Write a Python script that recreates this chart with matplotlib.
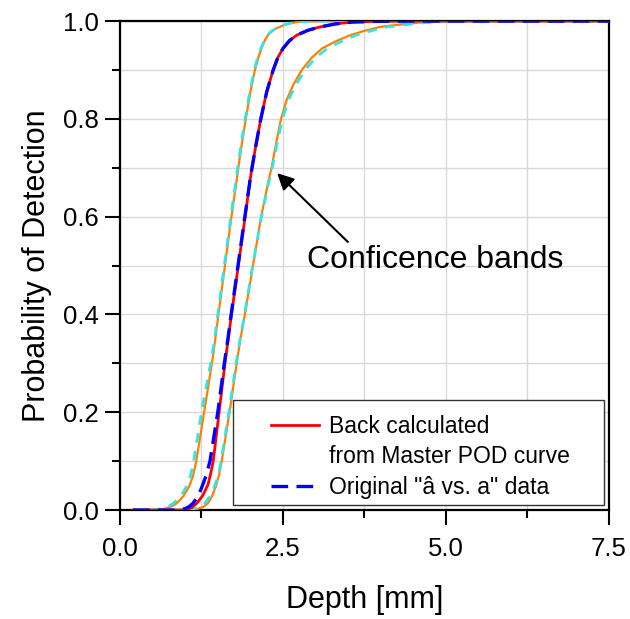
import matplotlib
matplotlib.use("Agg")
import matplotlib.pyplot as plt
from matplotlib.lines import Line2D
from matplotlib.patches import Rectangle
from matplotlib.ticker import MultipleLocator, FormatStrFormatter

plt.rcParams['font.family'] = ['Liberation Sans', 'DejaVu Sans']

# ---- data ----
# Back calculated from Master POD curve (red)
back_x = [0.2, 0.6, 0.9, 1.02, 1.10, 1.18, 1.27, 1.35, 1.39, 1.43, 1.52, 1.61, 1.655, 1.71, 1.815, 1.92,
          1.995, 2.025, 2.09, 2.16, 2.25, 2.35, 2.42, 2.50, 2.60, 2.71, 2.88, 3.07, 3.30, 3.57, 4.0, 4.5, 7.5]
back_y = [0.0, 0.0, 0.0, 0.001, 0.005, 0.014, 0.03, 0.052, 0.074, 0.10, 0.20, 0.30, 0.345, 0.40, 0.50, 0.60,
          0.675, 0.70, 0.75, 0.80, 0.855, 0.90, 0.925, 0.944, 0.960, 0.971, 0.981, 0.988, 0.994, 0.998, 0.9995, 1.0, 1.0]

# Original "â vs. a" data (blue dashed)
orig_x = [0.2, 0.85, 0.93, 1.0, 1.06, 1.12, 1.19, 1.25, 1.32, 1.38, 1.50, 1.60, 1.65, 1.705, 1.81, 1.915,
          1.995, 2.025, 2.09, 2.16, 2.25, 2.35, 2.42, 2.50, 2.60, 2.71, 2.88, 3.07, 3.30, 3.57, 4.0, 4.5, 7.5]
orig_y = [0.0, 0.0, 0.001, 0.003, 0.007, 0.014, 0.027, 0.045, 0.07, 0.10, 0.20, 0.30, 0.345, 0.40, 0.50, 0.60,
          0.675, 0.70, 0.75, 0.80, 0.855, 0.90, 0.925, 0.944, 0.960, 0.971, 0.981, 0.988, 0.994, 0.998, 0.9995, 1.0, 1.0]

# Confidence bands of back calculated curve (orange)
back_up_x = [0.2, 0.5, 0.6, 0.7, 0.8, 0.87, 0.97, 1.06, 1.12, 1.17, 1.29, 1.41, 1.46, 1.51, 1.61, 1.71,
             1.79, 1.815, 1.87, 1.93, 2.00, 2.07, 2.12, 2.17, 2.22, 2.27, 2.33, 2.40, 2.50, 2.60, 2.71, 2.9, 3.2, 7.5]
back_up_y = [0.0, 0.0, 0.001, 0.003, 0.008, 0.014, 0.028, 0.048, 0.07, 0.10, 0.20, 0.30, 0.348, 0.40, 0.50, 0.60,
             0.675, 0.70, 0.75, 0.80, 0.855, 0.90, 0.925, 0.944, 0.960, 0.971, 0.979, 0.985, 0.991, 0.995, 0.998, 0.9995, 1.0, 1.0]
back_lo_x = [0.2, 1.0, 1.10, 1.18, 1.27, 1.35, 1.41, 1.47, 1.52, 1.56, 1.68, 1.79, 1.845, 1.915, 2.04, 2.165,
             2.28, 2.325, 2.395, 2.47, 2.56, 2.66, 2.79, 2.94, 3.10, 3.30, 3.53, 3.75, 3.99, 4.30, 4.60, 5.0, 5.4, 7.5]
back_lo_y = [0.0, 0.0, 0.0005, 0.002, 0.006, 0.014, 0.028, 0.048, 0.072, 0.10, 0.20, 0.30, 0.348, 0.40, 0.50, 0.60,
             0.675, 0.70, 0.75, 0.80, 0.84, 0.87, 0.90, 0.925, 0.944, 0.958, 0.971, 0.980, 0.988, 0.993, 0.997, 0.999, 1.0, 1.0]

# Confidence bands of original data (cyan dashed)
orig_up_x = [0.2, 0.45, 0.55, 0.65, 0.75, 0.82, 0.93, 1.02, 1.08, 1.13, 1.25, 1.39, 1.45, 1.50, 1.60, 1.70,
             1.78, 1.805, 1.86, 1.92, 1.99, 2.06, 2.11, 2.16, 2.21, 2.26, 2.32, 2.39, 2.49, 2.59, 2.70, 2.9, 3.2, 7.5]
orig_up_y = [0.0, 0.0, 0.001, 0.003, 0.008, 0.014, 0.028, 0.048, 0.07, 0.10, 0.20, 0.30, 0.348, 0.40, 0.50, 0.60,
             0.675, 0.70, 0.75, 0.80, 0.855, 0.90, 0.925, 0.944, 0.960, 0.971, 0.979, 0.985, 0.991, 0.995, 0.998, 0.9995, 1.0, 1.0]
orig_lo_x = [0.2, 0.95, 1.05, 1.12, 1.22, 1.30, 1.38, 1.45, 1.51, 1.55, 1.67, 1.78, 1.84, 1.91, 2.035, 2.17,
             2.29, 2.335, 2.41, 2.49, 2.59, 2.70, 2.84, 3.00, 3.18, 3.39, 3.62, 3.85, 4.10, 4.40, 4.70, 5.05, 5.4, 7.5]
orig_lo_y = [0.0, 0.0, 0.0005, 0.002, 0.006, 0.014, 0.028, 0.048, 0.072, 0.10, 0.20, 0.30, 0.348, 0.40, 0.50, 0.60,
             0.675, 0.70, 0.75, 0.80, 0.84, 0.87, 0.90, 0.925, 0.944, 0.958, 0.971, 0.980, 0.988, 0.993, 0.997, 0.999, 1.0, 1.0]

legend_labels = ['Back calculated', 'from Master POD curve', 'Original "â vs. a" data']
annotation_text = 'Conficence bands'
x_label = 'Depth [mm]'
y_label = 'Probability of Detection'

# ---- figure ----
fig = plt.figure(figsize=(6.3, 6.19), dpi=100)
ax = fig.add_axes([0.1905, 0.176, 0.776, 0.790])

ORANGE = '#ff8000'
CYAN = '#33e5e5'

ax.plot(back_up_x, back_up_y, color=ORANGE, lw=1.6, zorder=3)
ax.plot(back_lo_x, back_lo_y, color=ORANGE, lw=1.6, zorder=3)
ax.plot(orig_up_x, orig_up_y, color=CYAN, lw=2.0, dashes=(3.5, 3.0), zorder=3.2)
ax.plot(orig_lo_x, orig_lo_y, color=CYAN, lw=2.0, dashes=(3.5, 3.0), zorder=3.2)
l_red, = ax.plot(back_x, back_y, color='#ff0000', lw=2.0, zorder=3.4)
l_blue, = ax.plot(orig_x, orig_y, color='#0000ff', lw=2.4, dashes=(5, 2.5), zorder=3.6)

ax.set_xlim(0, 7.5)
ax.set_ylim(0, 1.0)
ax.xaxis.set_major_locator(MultipleLocator(2.5))
ax.xaxis.set_minor_locator(MultipleLocator(1.25))
ax.yaxis.set_major_locator(MultipleLocator(0.2))
ax.yaxis.set_minor_locator(MultipleLocator(0.1))
ax.xaxis.set_major_formatter(FormatStrFormatter('%.1f'))
ax.yaxis.set_major_formatter(FormatStrFormatter('%.1f'))

ax.grid(True, which='both', color='#d9d9d9', lw=1.0, zorder=0)
ax.set_axisbelow(True)
for s in ax.spines.values():
    s.set_linewidth(1.6)
    s.set_color('black')
ax.tick_params(which='major', direction='out', length=10.5, width=1.5, labelsize=18.5, pad=5)
ax.tick_params(axis='x', which='major', pad=9)
ax.tick_params(which='minor', direction='out', length=5.5, width=1.5)
ax.tick_params(top=False, right=False, which='both')

ax.set_xlabel(x_label, fontsize=22, labelpad=17)
ax.set_ylabel(y_label, fontsize=22, labelpad=8)

# annotation
ax.annotate(annotation_text, xy=(2.41, 0.689), xytext=(2.87, 0.512),
            fontsize=23, va='center', ha='left',
            arrowprops=dict(arrowstyle='-|>', color='black', lw=1.5,
                            mutation_scale=25, shrinkA=0, shrinkB=0,
                            relpos=(0.17, 1.0)),
            zorder=6)

# legend box
ax.add_patch(Rectangle((0.231, 0.010), 0.759, 0.215, transform=ax.transAxes,
                       facecolor='white', edgecolor='#333333', lw=1.0, zorder=4.5))
blank = Line2D([], [], linestyle='none')
leg = ax.legend([l_red, blank, l_blue], legend_labels, loc='upper left',
                bbox_to_anchor=(0.300, 0.204), frameon=False, fontsize=16.5,
                handlelength=2.1, handletextpad=0.4, labelspacing=0.32,
                borderpad=0.2, borderaxespad=0)
leg.set_zorder(5)

fig.savefig('out.png', dpi=100)
